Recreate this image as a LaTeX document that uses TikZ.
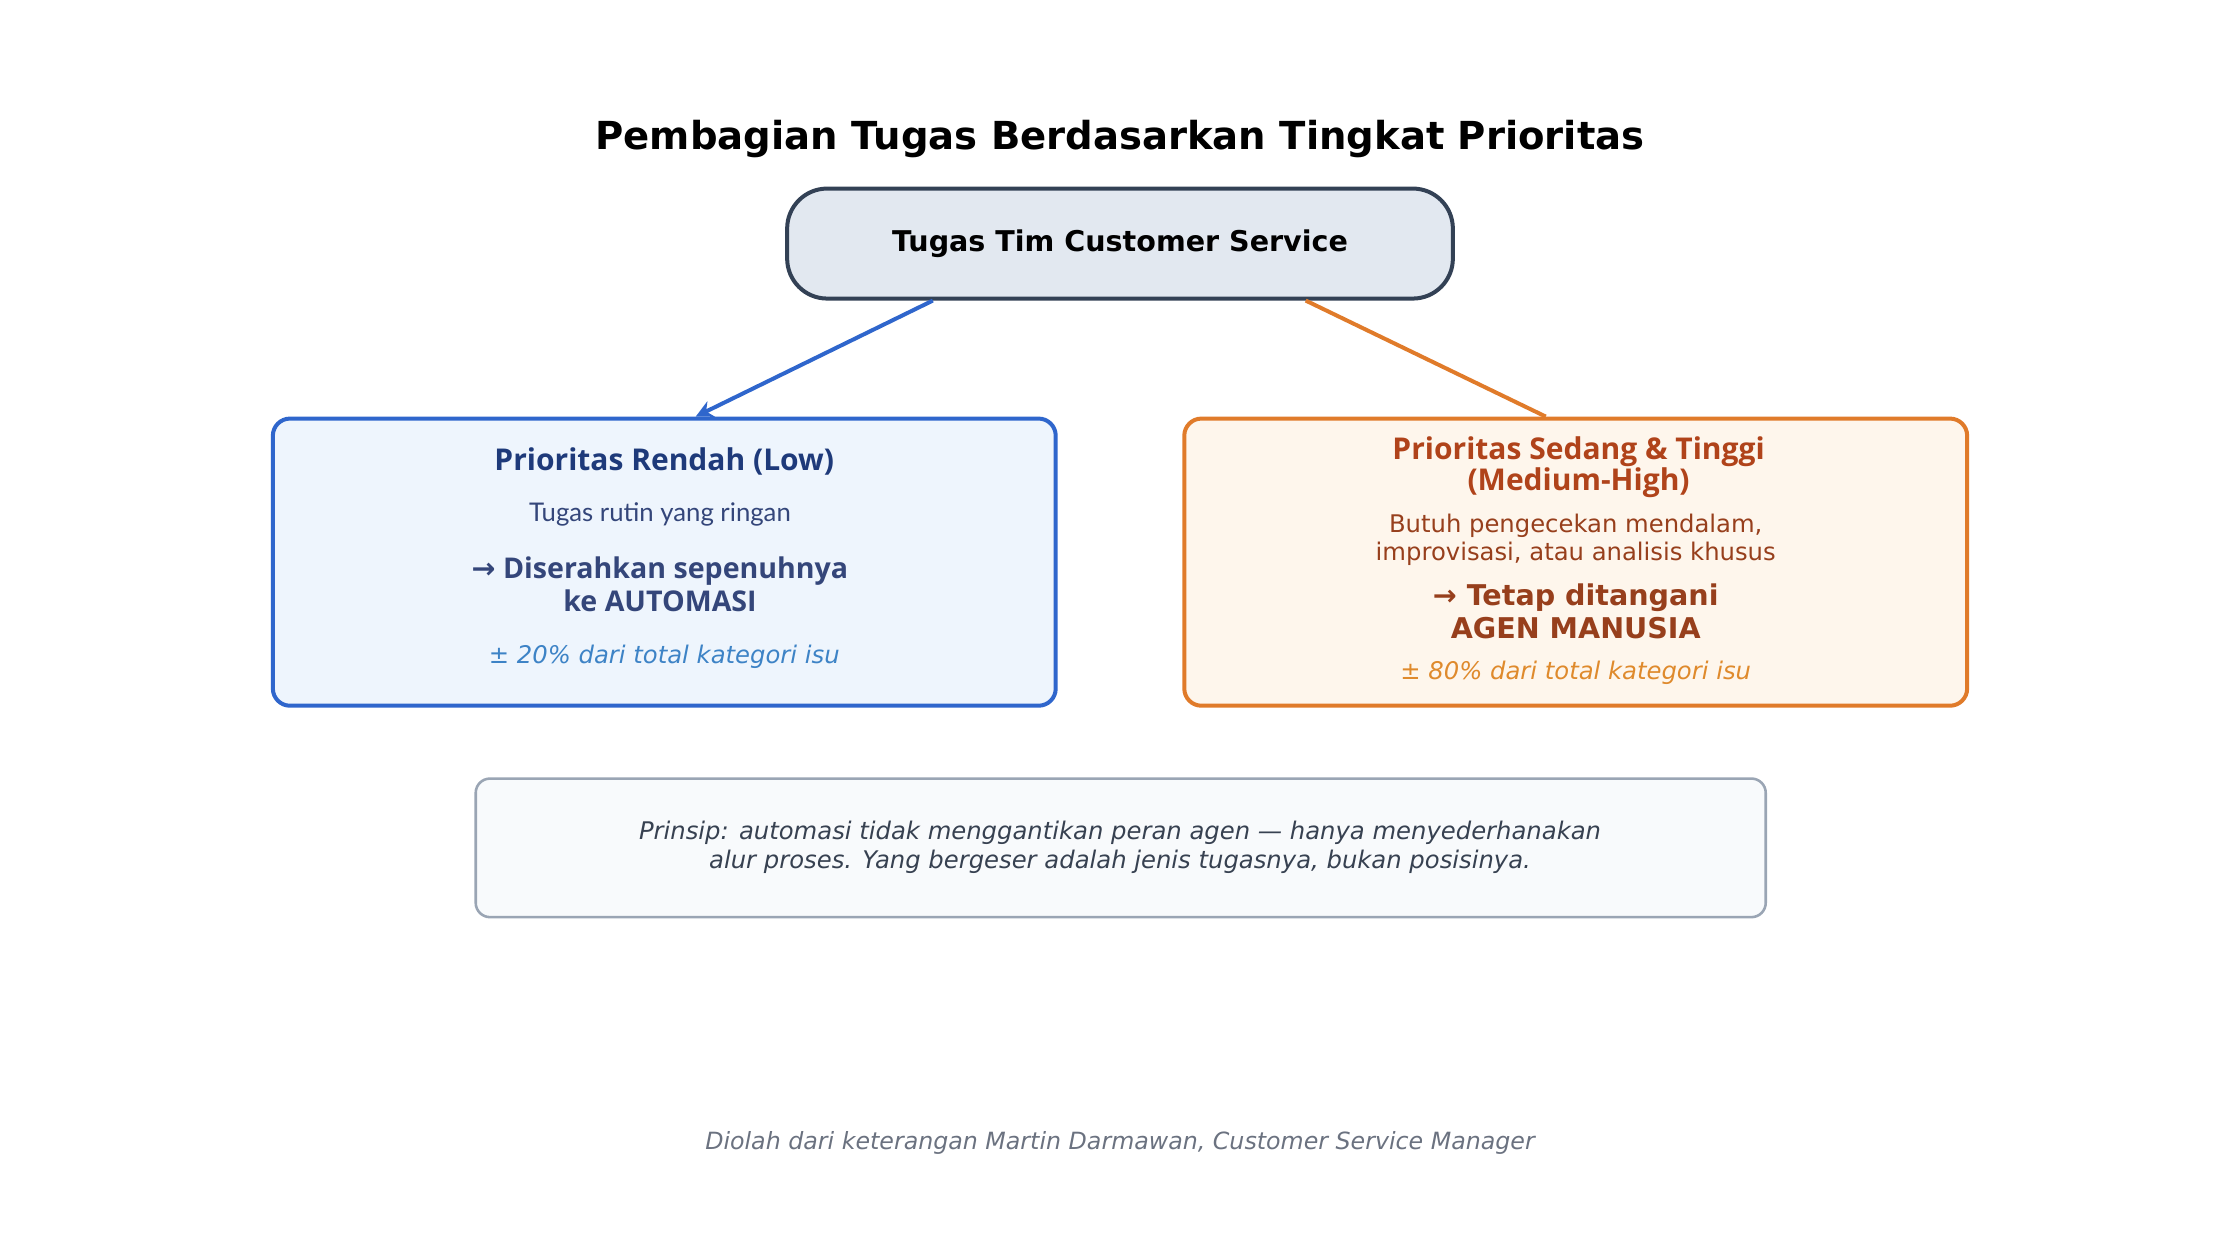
\documentclass[tikz,border=0pt]{standalone}
\usepackage{fontspec}
\setmainfont{DejaVu Sans}
\newfontfamily\headfont{Open Sans}
\newfontfamily\bodyfont{Lato}
\usetikzlibrary{arrows.meta}

\definecolor{slateline}{HTML}{334155}
\definecolor{slatefill}{HTML}{E2E8F0}
\definecolor{lowline}{HTML}{2F66CC}
\definecolor{lowfill}{HTML}{EEF5FD}
\definecolor{lowhead}{HTML}{1E3A7A}
\definecolor{lowtext}{HTML}{34467A}
\definecolor{lowpct}{HTML}{3D83C6}
\definecolor{highline}{HTML}{E07B2A}
\definecolor{highfill}{HTML}{FEF6EC}
\definecolor{highhead}{HTML}{B0431A}
\definecolor{hightext}{HTML}{973F1C}
\definecolor{highpct}{HTML}{DF8A2C}
\definecolor{noteline}{HTML}{9AA5B4}
\definecolor{notefill}{HTML}{F8FAFC}
\definecolor{notetext}{HTML}{374151}
\definecolor{srctext}{HTML}{6B7280}

\tikzset{
  box/.style={draw, line width=1.4pt, rounded corners=6pt},
  txt/.style={align=center, inner sep=0pt}
}

\begin{document}
\begin{tikzpicture}[x=0.5pt,y=0.5pt,yscale=-1,xscale=1]
\useasboundingbox (0,0) rectangle (1568,882);

% Title
\node[txt, font=\fontsize{13.5}{16}\selectfont\bfseries] (title) at (784,97) {Pembagian Tugas Berdasarkan Tingkat Prioritas};

% Root task
\node[draw=slateline, fill=slatefill, line width=1.4pt, rounded corners=14pt,
  minimum width=233pt, minimum height=38.5pt, inner sep=0pt,
  font=\fontsize{10}{12}\selectfont\bfseries] (task) at (784,170.5)
  {Tugas Tim Customer Service};

% Low priority box
\node[box, draw=lowline, fill=lowfill, minimum width=274pt, minimum height=100.5pt] (low) at (465,393.5) {};
\node[txt, text=lowhead, font=\headfont\fontsize{10.5}{12}\selectfont\bfseries] (lowtitle) at (465,323) {Prioritas Rendah (Low)};
\node[txt, text=lowtext, font=\bodyfont\fontsize{9}{11}\selectfont] (lowdesc) at (462,360) {Tugas rutin yang ringan};
\node[txt, text=lowtext, font=\headfont\fontsize{10}{11.5}\selectfont\bfseries] (lowact) at (462,409) {{\fontspec{DejaVu Sans}→} Diserahkan sepenuhnya\\ke AUTOMASI};
\node[txt, text=lowpct, font=\fontsize{8.5}{10}\selectfont\itshape] (lowpct) at (465,460) {± 20\% dari total kategori isu};

% Medium-high priority box
\node[box, draw=highline, fill=highfill, minimum width=274pt, minimum height=100.5pt] (high) at (1103,393.5) {};
\node[txt, text=highhead, font=\headfont\fontsize{10.5}{11}\selectfont\bfseries] (hightitle) at (1105,327) {Prioritas Sedang \& Tinggi\\(Medium-High)};
\node[txt, text=hightext, font=\fontsize{8.5}{10}\selectfont] (highdesc) at (1103,378) {Butuh pengecekan mendalam,\\improvisasi, atau analisis khusus};
\node[txt, text=hightext, font=\fontsize{10}{11.5}\selectfont\bfseries] (highact) at (1103,428) {→ Tetap ditangani\\AGEN MANUSIA};
\node[txt, text=highpct, font=\fontsize{8.5}{10}\selectfont\itshape] (highpct) at (1103,471) {± 80\% dari total kategori isu};

% Connectors
\draw[lowline, line width=1.4pt, -{Stealth[length=6pt,width=6pt]}] ([xshift=-65.5pt]task.south) -- ([xshift=11pt]low.north);
\draw[highline, line width=1.4pt] ([xshift=65pt]task.south) -- ([xshift=-10.5pt]high.north);

% Principle note
\node[draw=noteline, fill=notefill, line width=0.9pt, rounded corners=5pt,
  minimum width=451.5pt, minimum height=48.5pt] (note) at (784.5,593.5) {};
\node[txt, text=notetext, font=\fontsize{8.5}{10}\selectfont\itshape] (notetext) at (784,593) {Prinsip: automasi tidak menggantikan peran agen — hanya menyederhanakan\\alur proses. Yang bergeser adalah jenis tugasnya, bukan posisinya.};

% Source
\node[txt, text=srctext, font=\fontsize{8.3}{10}\selectfont\itshape] (source) at (784,800) {Diolah dari keterangan Martin Darmawan, Customer Service Manager};

\end{tikzpicture}
\end{document}
